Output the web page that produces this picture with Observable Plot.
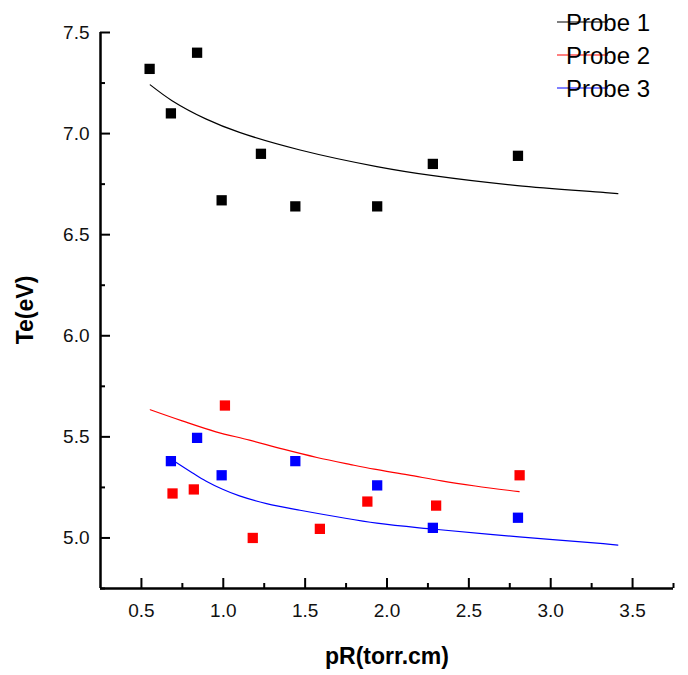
<!DOCTYPE html>
<html>
<head>
<meta charset="utf-8">
<script src="https://cdn.jsdelivr.net/npm/d3@7"></script>
<script src="https://cdn.jsdelivr.net/npm/@observablehq/plot@0.6"></script>
<style>
  html, body { margin: 0; padding: 0; background: #fff; }
  #chart { position: relative; width: 688px; height: 675px; }
</style>
</head>
<body>
<div id="chart"></div>
<script>
// ---- data ----
const seriesNames = ["Probe 1", "Probe 2", "Probe 3"];
const seriesColors = ["#000000", "#ff0000", "#0000ff"];

// measured points
const probe1X = [0.55, 0.68, 0.84, 0.99, 1.23, 1.44, 1.94, 2.28, 2.80];
const probe1Y = [7.32, 7.10, 7.40, 6.67, 6.90, 6.64, 6.64, 6.85, 6.89];
const probe2X = [0.69, 0.82, 1.01, 1.18, 1.59, 1.88, 2.30, 2.81];
const probe2Y = [5.22, 5.24, 5.655, 5.00, 5.045, 5.18, 5.16, 5.31];
const probe3X = [0.68, 0.84, 0.99, 1.44, 1.94, 2.28, 2.80];
const probe3Y = [5.38, 5.495, 5.31, 5.38, 5.26, 5.05, 5.10];

// fitted curves
const fit1X = [0.554, 0.687, 0.893, 1.099, 1.469, 1.938, 2.282, 2.796, 3.321, 3.41];
const fit1Y = [7.241, 7.163, 7.073, 7.006, 6.919, 6.837, 6.792, 6.743, 6.709, 6.703];
const fit2X = [0.554, 0.749, 0.955, 1.160, 1.366, 1.572, 1.778, 1.922, 2.128, 2.333, 2.539, 2.807];
const fit2Y = [5.634, 5.579, 5.525, 5.484, 5.439, 5.398, 5.363, 5.340, 5.312, 5.282, 5.257, 5.229];
const fit3X = [0.708, 0.810, 0.893, 0.996, 1.099, 1.264, 1.469, 1.938, 2.292, 2.807, 3.321, 3.41];
const fit3Y = [5.376, 5.323, 5.282, 5.241, 5.208, 5.170, 5.137, 5.073, 5.043, 5.005, 4.972, 4.965];

// axes
const xDomain = [0.25, 3.75];
const yDomain = [4.75, 7.5];
const xMajor = [0.5, 1.0, 1.5, 2.0, 2.5, 3.0, 3.5];
const xMinor = [0.75, 1.25, 1.75, 2.25, 2.75, 3.25, 3.75];
const yMajor = [5.0, 5.5, 6.0, 6.5, 7.0, 7.5];
const yMinor = [4.75, 5.25, 5.75, 6.25, 6.75, 7.25];
const xTitle = "pR(torr.cm)";
const yTitle = "Te(eV)";

// ---- build tables ----
const pts = [
  ...probe1X.map((x, i) => ({x, y: probe1Y[i], s: seriesNames[0]})),
  ...probe2X.map((x, i) => ({x, y: probe2Y[i], s: seriesNames[1]})),
  ...probe3X.map((x, i) => ({x, y: probe3Y[i], s: seriesNames[2]}))
];
const fits = [
  ...fit1X.map((x, i) => ({x, y: fit1Y[i], s: seriesNames[0]})),
  ...fit2X.map((x, i) => ({x, y: fit2Y[i], s: seriesNames[1]})),
  ...fit3X.map((x, i) => ({x, y: fit3Y[i], s: seriesNames[2]}))
];

const W = 688, H = 675;
const mL = 100, mT = 32, mB = 87, mR = 15;
const font = "'Liberation Sans', Arial, sans-serif";
const tickFont = 19;
const fmt = d => d.toFixed(1);

const plot = Plot.plot({
  width: W,
  height: H,
  marginLeft: mL,
  marginTop: mT,
  marginBottom: mB,
  marginRight: mR,
  style: {background: "#fff", fontFamily: font, overflow: "visible"},
  x: {domain: xDomain},
  y: {domain: yDomain},
  color: {domain: seriesNames, range: seriesColors},
  marks: [
    Plot.line(fits, {x: "x", y: "y", z: "s", stroke: "s", strokeWidth: 1.2, curve: "catmull-rom"}),
    Plot.dot(pts, {x: "x", y: "y", fill: "s", symbol: "square", r: 5.8, stroke: "none"}),
    // inward ticks (no built-in labels)
    Plot.axisX(xMajor, {anchor: "bottom", tickSize: -10, strokeWidth: 2, text: null, label: null}),
    Plot.axisX(xMinor, {anchor: "bottom", tickSize: -5, strokeWidth: 2, text: null, label: null}),
    Plot.axisY(yMajor, {anchor: "left", tickSize: -10, strokeWidth: 2, text: null, label: null}),
    Plot.axisY(yMinor, {anchor: "left", tickSize: -5, strokeWidth: 2, text: null, label: null}),
    // tick labels
    Plot.text(xMajor, {x: d => d, frameAnchor: "bottom", dy: 15, lineAnchor: "top",
      text: fmt, fontSize: tickFont, fill: "#111"}),
    Plot.text(yMajor, {y: d => d, frameAnchor: "left", dx: -11, textAnchor: "end", lineAnchor: "middle",
      text: fmt, fontSize: tickFont, fill: "#111"}),
    // axis lines
    Plot.ruleY([yDomain[0]], {x1: xDomain[0], x2: xDomain[1], stroke: "#000", strokeWidth: 2.5}),
    Plot.ruleX([xDomain[0]], {y1: yDomain[0], y2: yDomain[1], stroke: "#000", strokeWidth: 2.5})
  ]
});

document.getElementById("chart").appendChild(plot);

const svg = d3.select(plot);

// titles and legend
svg.append("text")
  .attr("x", 387).attr("y", 664)
  .attr("text-anchor", "middle")
  .attr("font-family", font).attr("font-size", 23).attr("font-weight", "bold")
  .attr("fill", "#000")
  .text(xTitle);
svg.append("text")
  .attr("transform", "translate(33,310) rotate(-90)")
  .attr("text-anchor", "middle")
  .attr("font-family", font).attr("font-size", 23).attr("font-weight", "bold")
  .attr("fill", "#000")
  .text(yTitle);

const leg = svg.append("g");
seriesNames.forEach((name, i) => {
  const yy = 22 + i * 33;
  leg.append("line")
    .attr("x1", 557).attr("x2", 608).attr("y1", yy).attr("y2", yy)
    .attr("stroke", seriesColors[i]).attr("stroke-width", 1.2);
  leg.append("text")
    .attr("x", 608).attr("y", yy).attr("dy", "0.36em")
    .attr("font-family", font).attr("font-size", 24)
    .attr("fill", "#000")
    .text(name);
});
</script>
</body>
</html>
